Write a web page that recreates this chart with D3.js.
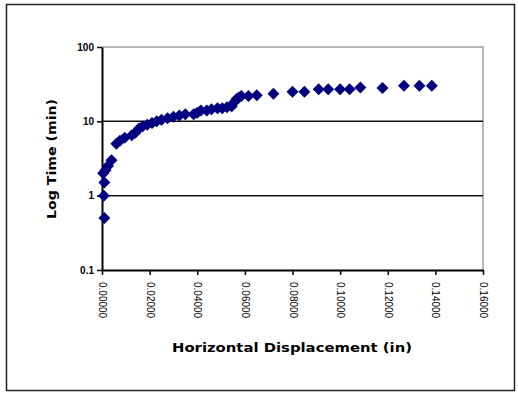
<!DOCTYPE html>
<html>
<head>
<meta charset="utf-8">
<script src="https://cdn.jsdelivr.net/npm/d3@7"></script>
<style>
  body { margin: 0; background: #fff; }
  svg { display: block; }
</style>
</head>
<body>
<svg id="chart"></svg>
<script>
// horizontal displacement (in) and time (min)
var displacement = [
  0.0010, 0.0008, 0.0010, 0.0005, 0.0015, 0.0025, 0.0040, 0.0060, 0.0075, 0.0095,
  0.0125, 0.0140, 0.0155, 0.0170, 0.0190, 0.0210, 0.0230, 0.0250, 0.0275, 0.0300,
  0.0325, 0.0350, 0.0385, 0.0400, 0.0415, 0.0440, 0.0460, 0.0485, 0.0505, 0.0525,
  0.0545, 0.0555, 0.0565, 0.0575, 0.0585, 0.0615, 0.0650, 0.0720, 0.0800, 0.0850,
  0.0910, 0.0950, 0.1000, 0.1040, 0.1085, 0.1178, 0.1268, 0.1333, 0.1385
];
var time = [
  0.5, 1.0, 1.5, 2.0, 2.2, 2.5, 3.0, 5.0, 5.5, 6.0,
  6.5, 7.0, 8.0, 8.5, 9.0, 9.5, 10.0, 10.5, 11.0, 11.5,
  12.0, 12.5, 12.5, 13.0, 14.0, 14.0, 14.5, 15.0, 15.0, 15.5,
  16.0, 18.0, 20.0, 21.0, 22.0, 22.0, 22.5, 23.5, 25.0, 25.0,
  27.0, 27.0, 27.0, 27.0, 28.5, 28.0, 30.0, 30.0, 30.0
];
var xTicks = [0, 0.02, 0.04, 0.06, 0.08, 0.10, 0.12, 0.14, 0.16];
var yTicks = [0.1, 1, 10, 100];

var data = displacement.map(function (d, i) {
  return { x: d, y: time[i] };
});

var width = 518;
var height = 394;
var plot = { left: 102, right: 483, top: 47, bottom: 270 };

var svg = d3.select("#chart").attr("width", width).attr("height", height);

// outer frame
svg
  .append("rect")
  .attr("x", 6.5)
  .attr("y", 4.5)
  .attr("width", 508)
  .attr("height", 386)
  .attr("fill", "#fff")
  .attr("stroke", "#222")
  .attr("stroke-width", 1.5);

var xScale = d3.scaleLinear().domain([0, 0.16]).range([plot.left, plot.right]);
var yScale = d3.scaleLog().domain([0.1, 100]).range([plot.bottom, plot.top]);

// plot border (top/right in grey)
svg
  .append("path")
  .attr(
    "d",
    "M" + plot.left + "," + plot.top + "H" + plot.right + "V" + plot.bottom
  )
  .attr("fill", "none")
  .attr("stroke", "#a0a0a0")
  .attr("stroke-width", 1.5);

// major gridlines
svg
  .append("g")
  .selectAll("line")
  .data([1, 10])
  .enter()
  .append("line")
  .attr("x1", plot.left)
  .attr("x2", plot.right)
  .attr("y1", function (d) {
    return yScale(d);
  })
  .attr("y2", function (d) {
    return yScale(d);
  })
  .attr("stroke", "#111")
  .attr("stroke-width", 1.5);

var yAxis = d3
  .axisLeft(yScale)
  .tickValues(yTicks)
  .tickFormat(function (d) {
    return d < 1 ? "0.1" : String(d);
  })
  .tickSize(5)
  .tickSizeOuter(0);

var yG = svg
  .append("g")
  .attr("transform", "translate(" + plot.left + ",0)")
  .call(yAxis);
yG.select(".domain").attr("stroke", "#000").attr("stroke-width", 2);
yG.selectAll(".tick line").attr("stroke", "#000").attr("stroke-width", 1.5);
yG.selectAll("text")
  .attr("font-family", "Liberation Sans, Arial, sans-serif")
  .attr("font-size", 10)
  .attr("font-weight", "bold")
  .attr("fill", "#000")
  .attr("x", -8);

var xAxis = d3
  .axisBottom(xScale)
  .tickValues(xTicks)
  .tickFormat(d3.format(".5f"))
  .tickSize(5)
  .tickSizeOuter(0);

var xG = svg
  .append("g")
  .attr("transform", "translate(0," + plot.bottom + ")")
  .call(xAxis);
xG.select(".domain").attr("stroke", "#000").attr("stroke-width", 2);
xG.selectAll(".tick line").attr("stroke", "#000").attr("stroke-width", 1.5);
xG.selectAll("text")
  .attr("font-family", "Liberation Sans, Arial, sans-serif")
  .attr("font-size", 10)
  .attr("fill", "#000")
  .attr("transform", "rotate(90)")
  .attr("x", 12)
  .attr("y", 0)
  .attr("dy", "0.35em")
  .style("text-anchor", "start");

// markers
svg
  .append("g")
  .selectAll("path")
  .data(data)
  .enter()
  .append("path")
  .attr("d", "M0,-6L6,0L0,6L-6,0Z")
  .attr("transform", function (d) {
    return "translate(" + xScale(d.x) + "," + yScale(d.y) + ")";
  })
  .attr("fill", "#000080");

// axis titles
svg
  .append("text")
  .attr("x", 292)
  .attr("y", 352)
  .attr("text-anchor", "middle")
  .attr("font-family", "DejaVu Sans, Verdana, sans-serif")
  .attr("font-size", 12)
  .attr("font-weight", "bold")
  .attr("textLength", 240)
  .attr("lengthAdjust", "spacingAndGlyphs")
  .text("Horizontal Displacement (in)");

svg
  .append("text")
  .attr("transform", "translate(56,159) rotate(-90)")
  .attr("text-anchor", "middle")
  .attr("font-family", "DejaVu Sans, Verdana, sans-serif")
  .attr("font-size", 12)
  .attr("font-weight", "bold")
  .attr("textLength", 120)
  .attr("lengthAdjust", "spacingAndGlyphs")
  .text("Log Time (min)");
</script>
</body>
</html>
